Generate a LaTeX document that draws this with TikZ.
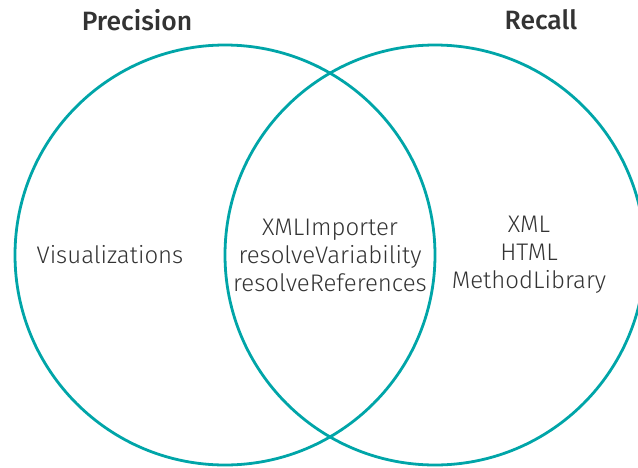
\documentclass[tikz,border=0pt]{standalone}
\usepackage{fontspec}
\setmainfont{Fira Sans Light}
\newfontfamily\ttlfont{Fira Sans Medium}
\definecolor{teal}{HTML}{00A5A8}
\definecolor{txt}{HTML}{333333}
\tikzset{
  venn/.style={circle, draw=teal, line width=2.8pt, minimum size=420pt, inner sep=0pt},
  lbl/.style={align=center, text=txt, font=\fontsize{24}{28}\selectfont},
  ttl/.style={text=txt, font=\ttlfont\fontsize{26.5}{28}\selectfont},
}
\begin{document}
\begin{tikzpicture}[x=1pt,y=-1pt]
\useasboundingbox (0,0) rectangle (638,467);
\node[venn] (P) at (225,255) {};
\node[venn] (R) at (435,255) {};
\node[ttl] (tp) at (137,20) {Precision};
\node[ttl] (tr) at (541,20) {Recall};
\node[lbl] (vis) at (110,255) {Visualizations};
\node[lbl] (mid) at (330,255) {XMLImporter\\resolveVariability\\resolveReferences};
\node[lbl] (rgt) at (529,255) {XML\\HTML\\MethodLibrary};
\end{tikzpicture}
\end{document}
